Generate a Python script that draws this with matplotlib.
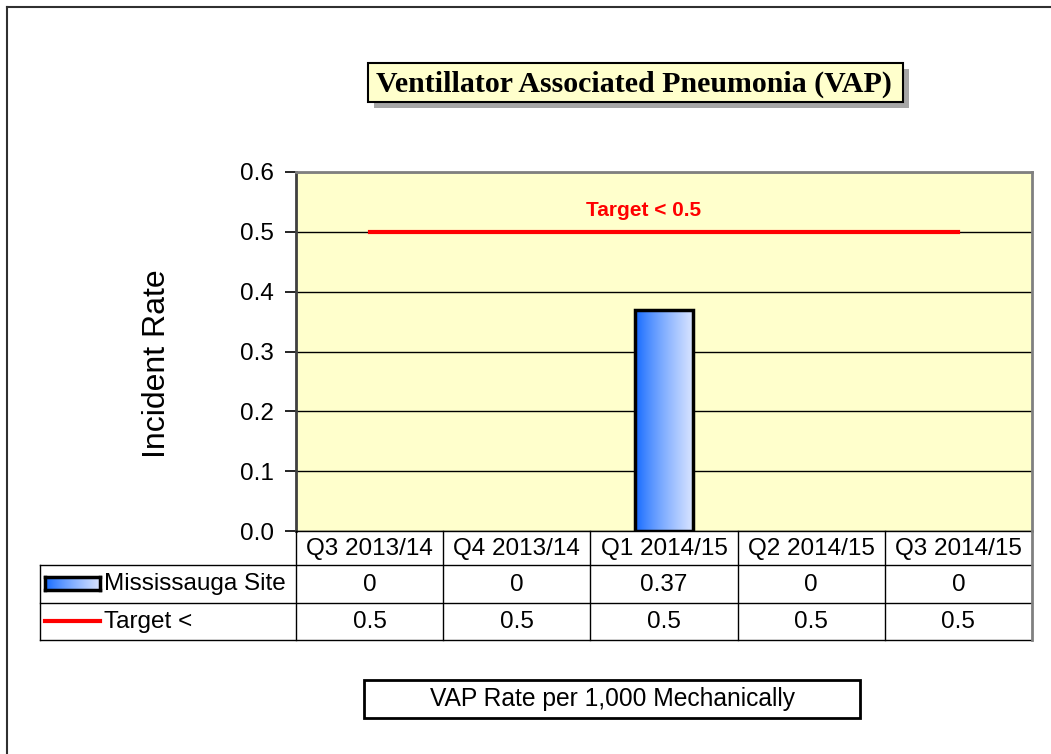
import numpy as np
import matplotlib
matplotlib.use("Agg")
import matplotlib.pyplot as plt
from matplotlib.patches import Rectangle
from matplotlib.lines import Line2D
import matplotlib.transforms as mtransforms

# ---- data ----
categories = ["Q3 2013/14", "Q4 2013/14", "Q1 2014/15", "Q2 2014/15", "Q3 2014/15"]
site_values = [0, 0, 0.37, 0, 0]
target_values = [0.5, 0.5, 0.5, 0.5, 0.5]
site_labels = ["0", "0", "0.37", "0", "0"]
target_labels = ["0.5", "0.5", "0.5", "0.5", "0.5"]
series_names = ["Mississauga Site", "Target <"]
yticks = [0.0, 0.1, 0.2, 0.3, 0.4, 0.5, 0.6]
title = "Ventillator Associated Pneumonia (VAP)"
ylabel = "Incident Rate"
target_text = "Target < 0.5"
footer = "VAP Rate per 1,000 Mechanically"

W, H = 1051, 754
fig = plt.figure(figsize=(W / 100, H / 100), dpi=100)
plt.rcParams['font.family'] = ['Liberation Sans', 'DejaVu Sans']
FS = 17.5

def fx(px):
    return px / W

def fy(py):
    return 1 - py / H

# axes in pixel layout
L, R, T, B = 296, 1032, 172, 531
ax = fig.add_axes([fx(L), fy(B), fx(R - L), (B - T) / H])
ax.set_facecolor("#FFFFCC")
ax.set_xlim(-0.5, len(categories) - 0.5)
ax.set_ylim(0, 0.6)
ax.set_yticks(yticks)
ax.set_yticklabels([f"{v:.1f}" for v in yticks], fontsize=FS)
ax.tick_params(axis='y', length=8, width=1.2, pad=8, colors='black')
ax.set_xticks([])
ax.grid(axis='y', color='black', linewidth=1.0, zorder=1)
ax.set_axisbelow(True)
for s in ['top', 'right']:
    ax.spines[s].set_color('#808080')
    ax.spines[s].set_linewidth(2)
ax.spines['left'].set_color('#404040')
ax.spines['left'].set_linewidth(2)
ax.spines['bottom'].set_color('black')
ax.spines['bottom'].set_linewidth(1)

# gradient bars
bar_w = 0.4
grad = np.linspace(0, 1, 256) ** 0.8
c0 = np.array([0.05, 0.40, 1.0])
c1 = np.array([0.86, 0.90, 1.0])
img = (c0[None, :] * (1 - grad[:, None]) + c1[None, :] * grad[:, None])[None, :, :]
bars = ax.bar(range(len(categories)), site_values, width=bar_w, color='none',
              edgecolor='black', linewidth=2.5, zorder=4)
for b, v in zip(bars, site_values):
    if v > 0:
        x0 = b.get_x()
        im = ax.imshow(img, extent=[x0, x0 + bar_w, 0, v], aspect='auto', zorder=3,
                       interpolation='bilinear')
        im.set_clip_path(b)
    else:
        b.set_linewidth(0)
ax.set_xlim(-0.5, len(categories) - 0.5)
ax.set_ylim(0, 0.6)

# target line
ax.plot(range(len(categories)), target_values, color='#FF0000', linewidth=3, zorder=5)
ax.text(1.86, 0.535, target_text, color='#FF0000', fontsize=15, fontweight='bold',
        ha='center', va='center', zorder=6)

ax.set_ylabel(ylabel, fontsize=23)
ax.yaxis.set_label_coords((172 - L) / (R - L), (B - 364) / (B - T))

# ---- data table ----
trans = mtransforms.blended_transform_factory(ax.transData, fig.transFigure)
ftrans = fig.transFigure
n = len(categories)
lc = 'black'
fig.add_artist(Line2D([fx(40), fx(R)], [fy(565), fy(565)], color=lc, lw=1))
fig.add_artist(Line2D([fx(40), fx(R)], [fy(603), fy(603)], color=lc, lw=1))
fig.add_artist(Line2D([fx(40), fx(R)], [fy(640), fy(640)], color=lc, lw=1))
fig.add_artist(Line2D([fx(40), fx(40)], [fy(565), fy(640)], color=lc, lw=1))
for i in range(n + 1):
    xb = i - 0.5
    col = '#808080' if i == n else lc
    fig.add_artist(Line2D([xb, xb], [fy(531), fy(640)], color=col, lw=1 if i < n else 2,
                          transform=trans))
for i, c in enumerate(categories):
    fig.text(i, fy(549), c, transform=trans, ha='center', va='center', fontsize=FS)
    fig.text(i, fy(585), site_labels[i], transform=trans, ha='center', va='center', fontsize=FS)
    fig.text(i, fy(622), target_labels[i], transform=trans, ha='center', va='center', fontsize=FS)

# legend keys
kax = fig.add_axes([fx(45), fy(590), fx(55), 13 / H])
kax.imshow(img, aspect='auto', extent=[0, 1, 0, 1])
kax.set_xticks([]); kax.set_yticks([])
for s in kax.spines.values():
    s.set_linewidth(2.5)
    s.set_color('black')
fig.text(fx(104), fy(584), series_names[0], ha='left', va='center', fontsize=FS)
fig.add_artist(Line2D([fx(45), fx(100)], [fy(621), fy(621)], color='#FF0000', lw=3))
fig.text(fx(104), fy(622), series_names[1], ha='left', va='center', fontsize=FS)

# ---- title box with shadow ----
fig.add_artist(Rectangle((fx(374), fy(108)), fx(535), 39 / H, transform=ftrans,
                         facecolor='#A6A6A6', edgecolor='none', zorder=1))
fig.add_artist(Rectangle((fx(368), fy(102)), fx(535), 39 / H, transform=ftrans,
                         facecolor='#FFFFCC', edgecolor='black', linewidth=1.5, zorder=2))
fig.text(fx(634), fy(84), title, ha='center', va='center', fontsize=21.5,
         fontweight='bold', family=['Liberation Serif', 'DejaVu Serif'], zorder=3)

# ---- footer box ----
fig.add_artist(Rectangle((fx(364), fy(718)), fx(496), 38 / H, transform=ftrans,
                         facecolor='white', edgecolor='black', linewidth=2, zorder=2))
fig.text(fx(613), fy(699), footer, ha='center', va='center', fontsize=17.7, zorder=3)

# ---- figure frame (top/left) ----
fig.add_artist(Line2D([fx(7), fx(W)], [fy(7), fy(7)], color='#303030', lw=1.5))
fig.add_artist(Line2D([fx(7), fx(7)], [fy(7), fy(H)], color='#303030', lw=1.5))

fig.savefig("out.png", dpi=100, facecolor='white')
